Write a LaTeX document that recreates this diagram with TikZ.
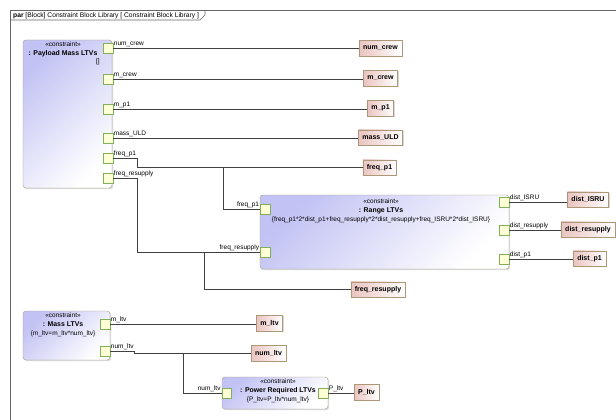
\documentclass[tikz,border=0pt]{standalone}
\usepackage{fontspec}
\setmainfont{Liberation Sans}
\usetikzlibrary{shadows}
\definecolor{blkfill}{RGB}{194,194,244}
\definecolor{blkline}{RGB}{160,155,128}
\definecolor{valfill}{RGB}{234,196,192}
\definecolor{valline}{RGB}{172,152,120}
\definecolor{portfill}{RGB}{255,255,214}
\definecolor{portline}{RGB}{128,176,92}
\definecolor{wirecol}{RGB}{64,64,64}
\newcommand\cname[1]{{\fontsize{6.9}{8.5}\selectfont\bfseries #1}}
\tikzset{
  cblock/.style={draw=blkline, rounded corners=3pt, top color=blkfill, bottom color=white, shading angle=45, inner sep=0pt, outer sep=0pt, drop shadow={shadow xshift=1.2pt, shadow yshift=-1.2pt, opacity=.3}},
  val/.style={draw=valline, left color=valfill, right color=white, font=\fontsize{7}{8}\selectfont\bfseries, inner xsep=4pt, inner ysep=0pt, minimum height=15.5pt, outer sep=0pt, drop shadow={shadow xshift=1pt, shadow yshift=-1pt, opacity=.3}},
  port/.style={draw=portline, fill=portfill, minimum size=9.5pt, inner sep=0pt, outer sep=0pt},
  plbl/.style={font=\fontsize{6.5}{7.5}\selectfont, inner sep=1pt},
  ctext/.style={font=\fontsize{6.5}{8.8}\selectfont, align=center, inner sep=0pt},
  wire/.style={draw=wirecol, line width=.7pt}
}
\begin{document}
\begin{tikzpicture}[x=1pt,y=-1pt]
\useasboundingbox (0,0) rectangle (616,420);
\clip (0,0) rectangle (616,420);
\draw[black!60, line width=.7pt] (10,10) rectangle (640,440);
\draw[black!60, line width=.7pt] (10,20) -- (200,20) -- (205,15) -- (205,10);
\node[anchor=base west, font=\fontsize{6.7}{7}\selectfont, inner sep=0pt] (title) at (13,17.5) {\textbf{par} [Block] Constraint Block Library [ Constraint Block Library ]};

\node[cblock, minimum width=89pt, minimum height=148pt] (payload) at (67.5,114) {};
\node[ctext, anchor=north] (payloadtxt) at (63,42) {«constraint»\\\cname{: Payload Mass LTVs}};
\node[ctext, anchor=north east] (payloadbody) at (100,59) {[]};
\foreach \n/\y/\t in {1/48/num\_crew, 2/79/m\_crew, 3/109/m\_p1, 4/138/mass\_ULD, 5/158/freq\_p1, 6/178/freq\_resupply} {
  \node[port] (pl\n) at (108,\y) {};
  \node[plbl, anchor=south west] (tl\n) at (pl\n.east) {\t};
}
\foreach \n/\x/\y/\t in {1/380.5/48/num\_crew, 2/380.5/78/m\_crew, 3/380.5/108/m\_p1, 4/380.5/137.5/mass\_ULD, 5/379.5/167.5/freq\_p1, 6/378/289.5/freq\_resupply}
  \node[val] (vl\n) at (\x,\y) {\t};
\foreach \n in {1,2,3,4}
  \draw[wire] (pl\n.east) -- (pl\n.east -| vl\n.west);

\node[cblock, minimum width=249pt, minimum height=74pt] (range) at (384.5,232) {};
\node[ctext, anchor=north] (rangetxt) at (381,198.5) {«constraint»\\\cname{: Range LTVs}\\\{freq\_p1*2*dist\_p1+freq\_resupply*2*dist\_resupply+freq\_ISRU*2*dist\_ISRU\}};
\foreach \n/\y/\t in {1/209/freq\_p1, 2/252/freq\_resupply} {
  \node[port] (rl\n) at (265,\y) {};
  \node[plbl, anchor=south east] (trl\n) at (rl\n.west) {\t};
}
\foreach \n/\y/\t/\x/\v in {1/202/dist\_ISRU/588/199.5, 2/230/dist\_resupply/588/229.5, 3/259/dist\_p1/589.5/258.5} {
  \node[port] (rr\n) at (504,\y) {};
  \node[plbl, anchor=south west] (trr\n) at (rr\n.east) {\t};
  \node[val] (vr\n) at (\x,\v) {\t};
  \draw[wire] (rr\n.east) -- (rr\n.east -| vr\n.west);
}

\draw[wire] (pl5.east) -- ++(25,0) |- (vl5.west);
\coordinate (j1) at (223,0 |- vl5.west);
\draw[wire] (j1) |- (rl1.west);
\draw[wire] (pl6.east) -- ++(25,0) |- (rl2.west);
\coordinate (j2) at (204,0 |- rl2.west);
\draw[wire] (j2) |- (vl6.west);

\node[cblock, minimum width=87pt, minimum height=49pt] (mass) at (66.5,335.5) {};
\node[ctext, anchor=north] (masstxt) at (63,313) {«constraint»\\\cname{: Mass LTVs}\\\{m\_ltv=m\_ltv*num\_ltv\}};
\foreach \n/\y/\t in {1/324/m\_ltv, 2/351/num\_ltv} {
  \node[port] (ml\n) at (105,\y) {};
  \node[plbl, anchor=south west] (tml\n) at (ml\n.east) {\t};
}
\node[val] (vm1) at (269.5,323) {m\_ltv};
\node[val] (vm2) at (268.5,353) {num\_ltv};
\draw[wire] (ml1.east) -- (ml1.east -| vm1.west);
\draw[wire] (ml2.east) -- ++(25,0) |- (vm2.west);

\node[cblock, minimum width=106pt, minimum height=32pt] (power) at (275,393) {};
\node[ctext, anchor=north] (powertxt) at (278,378.5) {«constraint»\\\cname{: Power Required LTVs}\\\{P\_ltv=P\_ltv*num\_ltv\}};
\node[port] (pw1) at (226.5,393) {};
\node[port] (pw2) at (323,393) {};
\node[plbl, anchor=south east] (tpw1) at (pw1.west) {num\_ltv};
\node[plbl, anchor=south west] (tpw2) at (pw2.east) {P\_ltv};
\node[val] (vp) at (366.5,392) {P\_ltv};
\draw[wire] (pw2.east) -- (pw2.east -| vp.west);
\coordinate (j3) at (183,0 |- vm2.west);
\draw[wire] (j3) |- (pw1.west);
\end{tikzpicture}
\end{document}
